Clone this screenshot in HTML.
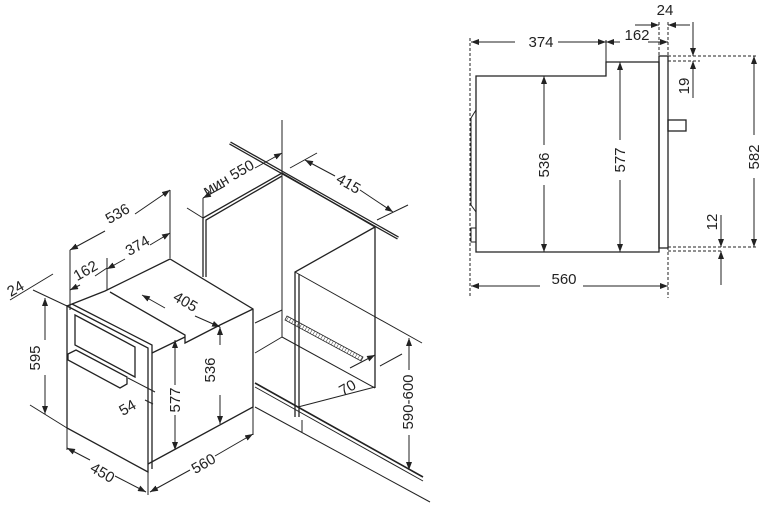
<!DOCTYPE html>
<html><head><meta charset="utf-8"><style>
html,body{margin:0;padding:0;background:#fff}
svg{display:block}
text{font-family:"Liberation Sans",sans-serif;font-size:15px;fill:#222}
</style></head><body>
<svg width="766" height="515" viewBox="0 0 766 515" xmlns="http://www.w3.org/2000/svg">
<defs>
<marker id="a" markerWidth="8" markerHeight="6" refX="8" refY="3" orient="auto-start-reverse" markerUnits="userSpaceOnUse"><path d="M0,0 L8,3 L0,6z" fill="#222"/></marker>
<pattern id="h" width="3" height="6" patternUnits="userSpaceOnUse" patternTransform="rotate(30)"><line x1="0" y1="0" x2="0" y2="6" stroke="#333" stroke-width="1"/></pattern>
</defs>
<g stroke="#222" fill="none" stroke-width="1.3">
<path d="M476,76 L606,76 L606,62 L659,62 L659,252 L476,252 Z"/>
<rect x="659" y="56" width="9" height="192"/>
<rect x="668" y="120" width="18" height="11"/>
<path d="M476,110 L471,118 L471,205 L476,212" stroke-width="1"/>
<rect x="471" y="228" width="5" height="14" stroke-width="1"/>
<g stroke-dasharray="3,2" stroke-width="1">
<line x1="470" y1="38" x2="470" y2="298"/>
<line x1="668" y1="22" x2="668" y2="298"/>
<line x1="659" y1="22" x2="659" y2="56"/>
<line x1="668" y1="56" x2="756" y2="56"/>
<line x1="668" y1="61" x2="700" y2="61"/>
<line x1="668" y1="247" x2="756" y2="247"/>
<line x1="668" y1="251" x2="722" y2="251"/>
</g>
<g stroke-width="1">
<line x1="606" y1="40" x2="606" y2="62"/>
<line x1="471" y1="42" x2="515" y2="42" marker-start="url(#a)"/>
<line x1="558" y1="42" x2="606" y2="42" marker-end="url(#a)"/>
<line x1="606" y1="42" x2="620" y2="42" marker-start="url(#a)"/>
<line x1="648" y1="42" x2="668" y2="42" marker-end="url(#a)"/>
<line x1="635" y1="25" x2="659" y2="25" marker-end="url(#a)"/>
<line x1="690" y1="25" x2="668" y2="25" marker-end="url(#a)"/>
<line x1="693" y1="22" x2="693" y2="56" marker-end="url(#a)"/>
<line x1="693" y1="98" x2="693" y2="61" marker-end="url(#a)"/>
<line x1="544" y1="145" x2="544" y2="76" marker-end="url(#a)"/>
<line x1="544" y1="185" x2="544" y2="252" marker-end="url(#a)"/>
<line x1="620" y1="140" x2="620" y2="62" marker-end="url(#a)"/>
<line x1="620" y1="180" x2="620" y2="252" marker-end="url(#a)"/>
<line x1="754" y1="135" x2="754" y2="56" marker-end="url(#a)"/>
<line x1="754" y1="178" x2="754" y2="247" marker-end="url(#a)"/>
<line x1="721" y1="215" x2="721" y2="247" marker-end="url(#a)"/>
<line x1="721" y1="285" x2="721" y2="251" marker-end="url(#a)"/>
<line x1="540" y1="286" x2="471" y2="286" marker-end="url(#a)"/>
<line x1="583" y1="286" x2="668" y2="286" marker-end="url(#a)"/>
</g>

<line x1="230" y1="143" x2="398" y2="238" stroke-width="3.5"/>
<line x1="230" y1="143" x2="398" y2="238" stroke="#fff" stroke-width="1"/>
<path d="M203,277 L203,218 L282,173 L375,227 L375,388"/>
<path d="M206,277 L206,220 L282,176"/>
<line x1="282" y1="173" x2="282" y2="337" stroke-width="1"/>
<line x1="282" y1="120" x2="282" y2="173" stroke-width="1"/>
<path d="M295,417 L295,272 L375,227"/>
<path d="M299,417 L299,274"/>
<line x1="298" y1="407" x2="375" y2="387" stroke-width="1"/>
<line x1="295" y1="272" x2="422" y2="343" stroke-width="1"/>
<line x1="255" y1="323" x2="282" y2="310" stroke-width="1"/>
<line x1="255" y1="353" x2="282" y2="337" stroke-width="1"/>
<line x1="282" y1="337" x2="375" y2="388" stroke-width="1"/>
<line x1="255" y1="383" x2="423" y2="477" stroke-width="1.6"/>
<line x1="255" y1="387" x2="423" y2="481" stroke-width="1"/>
<line x1="255" y1="407" x2="430" y2="502" stroke-width="1"/>
<line x1="302" y1="420" x2="302" y2="432" stroke-width="1"/>
<path d="M287,316 L363,357 L361,361 L285,320 Z" fill="url(#h)" stroke-width="0.8"/>
<path d="M67,306 L148,348 L148,472 L67,428 Z"/>
<path d="M67,306 L105,291 L170,259 L253,309 L253,407 L148,464"/>
<path d="M72,304 L152,345 L152,469"/>
<path d="M110,292 L185,335 L185,343 L220,325 L253,309"/>
<path d="M152,353 L185,337"/>
<path d="M75,315 L135,347 L135,377 L75,345 Z"/>
<path d="M68,354 L76,350 L127,377 L127,384 L120,388 L68,360 Z"/>
<g stroke-width="1">
<line x1="70" y1="250" x2="70" y2="310"/>
<line x1="170" y1="190" x2="170" y2="258"/>
<line x1="107" y1="258" x2="107" y2="290"/>
<line x1="70" y1="250" x2="105" y2="231" marker-start="url(#a)"/>
<line x1="135" y1="214" x2="170" y2="190" marker-end="url(#a)"/>
<line x1="107" y1="269" x2="125" y2="259" marker-start="url(#a)"/>
<line x1="150" y1="245" x2="170" y2="233" marker-end="url(#a)"/>
<line x1="70" y1="290" x2="80" y2="285" marker-start="url(#a)"/>
<line x1="95" y1="276" x2="107" y2="268"/>
<line x1="10" y1="300" x2="53" y2="274"/>
<line x1="33" y1="290" x2="67" y2="306"/>
<line x1="45" y1="298" x2="45" y2="340" marker-start="url(#a)"/>
<line x1="45" y1="375" x2="45" y2="414" marker-end="url(#a)"/>
<line x1="30" y1="405" x2="67" y2="428"/>
<line x1="67" y1="428" x2="67" y2="450"/>
<line x1="148" y1="472" x2="148" y2="495"/>
<line x1="253" y1="407" x2="253" y2="435"/>
<line x1="67" y1="448" x2="90" y2="460" marker-start="url(#a)"/>
<line x1="115" y1="476" x2="146" y2="492" marker-end="url(#a)"/>
<line x1="150" y1="492" x2="190" y2="470" marker-start="url(#a)"/>
<line x1="215" y1="456" x2="253" y2="434" marker-end="url(#a)"/>
<line x1="142" y1="295" x2="165" y2="308" marker-start="url(#a)"/>
<line x1="195" y1="316" x2="220" y2="327" marker-end="url(#a)"/>
<line x1="220" y1="327" x2="220" y2="345" marker-start="url(#a)"/>
<line x1="220" y1="395" x2="220" y2="424" marker-end="url(#a)"/>
<line x1="175" y1="340" x2="175" y2="385" marker-start="url(#a)"/>
<line x1="175" y1="415" x2="175" y2="450" marker-end="url(#a)"/>
<line x1="128" y1="378" x2="155" y2="392"/>
<line x1="145" y1="400" x2="153" y2="404"/>
<line x1="203" y1="198" x2="225" y2="186" marker-start="url(#a)"/>
<line x1="255" y1="168" x2="282" y2="153" marker-end="url(#a)"/>
<line x1="187" y1="208" x2="203" y2="218"/>
<line x1="203" y1="198" x2="203" y2="218"/>
<line x1="290" y1="168" x2="317" y2="153"/>
<line x1="377" y1="220" x2="408" y2="205"/>
<line x1="305" y1="160" x2="335" y2="176" marker-start="url(#a)"/>
<line x1="360" y1="190" x2="393" y2="212" marker-end="url(#a)"/>
<line x1="409" y1="338" x2="409" y2="370" marker-start="url(#a)"/>
<line x1="409" y1="435" x2="409" y2="470" marker-end="url(#a)"/>
<line x1="350" y1="368" x2="375" y2="355" marker-end="url(#a)"/>
<line x1="380" y1="366" x2="402" y2="354"/>
</g>
</g>
<text x="541" y="47" text-anchor="middle">374</text>
<text x="637" y="40" text-anchor="middle">162</text>
<text x="665" y="15" text-anchor="middle">24</text>
<text x="564" y="284" text-anchor="middle">560</text>
<text transform="translate(549,165) rotate(-90)" text-anchor="middle">536</text>
<text transform="translate(625,160) rotate(-90)" text-anchor="middle">577</text>
<text transform="translate(759,157) rotate(-90)" text-anchor="middle">582</text>
<text transform="translate(689,86) rotate(-90)" text-anchor="middle">19</text>
<text transform="translate(717,222) rotate(-90)" text-anchor="middle">12</text>
<text transform="translate(120,218) rotate(-30)" text-anchor="middle">536</text>
<text transform="translate(140,250) rotate(-30)" text-anchor="middle">374</text>
<text transform="translate(88,275) rotate(-30)" text-anchor="middle">162</text>
<text transform="translate(18,293) rotate(-30)" text-anchor="middle">24</text>
<text transform="translate(40,358) rotate(-90)" text-anchor="middle">595</text>
<text transform="translate(183,306) rotate(30)" text-anchor="middle">405</text>
<text transform="translate(215,370) rotate(-90)" text-anchor="middle">536</text>
<text transform="translate(180,400) rotate(-90)" text-anchor="middle">577</text>
<text transform="translate(130,412) rotate(-30)" text-anchor="middle">54</text>
<text transform="translate(100,477) rotate(30)" text-anchor="middle">450</text>
<text transform="translate(206,468) rotate(-30)" text-anchor="middle">560</text>
<text transform="translate(231,182) rotate(-30)" text-anchor="middle">мин 550</text>
<text transform="translate(346,188) rotate(30)" text-anchor="middle">415</text>
<text transform="translate(350,392) rotate(-30)" text-anchor="middle">70</text>
<text transform="translate(413,402) rotate(-90)" text-anchor="middle">590-600</text>
</svg>
</body></html>
